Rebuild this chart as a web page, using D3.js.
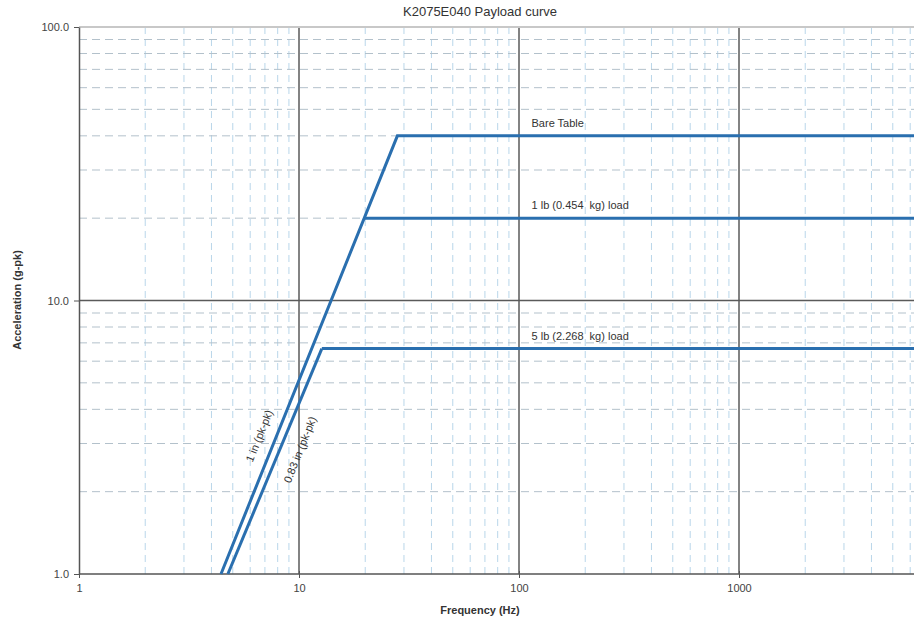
<!DOCTYPE html>
<html>
<head>
<meta charset="utf-8">
<script src="https://cdn.jsdelivr.net/npm/d3@7"></script>
<style>
  body { margin: 0; background: #fff; }
  svg { display: block; font-family: "Liberation Sans", Arial, sans-serif; }
  text { white-space: pre; }
</style>
</head>
<body>
<svg id="chart" width="914" height="628"></svg>
<script>
// Payload curve, log-log

const bareFreq = [4.42, 28, 10000];
const bareAccel = [1, 40, 40];
const oneLbFreq = [19.8, 10000];
const oneLbAccel = [20, 20];
const fiveLbFreq = [12.7, 10000];
const fiveLbAccel = [6.67, 6.67];
const dispFreq = [4.75, 12.7];   // 0.83 in (pk-pk)
const dispAccel = [1, 6.67];

const xTicks = [1, 10, 100, 1000];
const yTicks = [1, 10, 100];

const lineLabels = [
  { text: "Bare Table", f: 114, a: 40 },
  { text: "1 lb (0.454  kg) load", f: 114, a: 20 },
  { text: "5 lb (2.268  kg) load", f: 114, a: 6.67 }
];
const slopeLabels = [
  { text: "1 in (pk-pk)", f: 6.6, a: 3.2 },
  { text: "0.83 in (pk-pk)", f: 10.1, a: 2.85 }
];

const width = 914, height = 628;
const margin = { top: 27, left: 79, bottom: 54 };

const svg = d3.select("#chart");

// x axis runs to 10000, the picture is cut at the right edge
const x = d3.scaleLog().domain([1, 10000]).range([margin.left, margin.left + 4 * 220]);
const y = d3.scaleLog().domain([1, 100]).range([height - margin.bottom, margin.top]);

const lineColor = "#2a6faf";
const plotRight = width;

// minor grid
const minorX = [], minorY = [];
for (let d = 1; d < 10000; d *= 10) {
  for (let m = 2; m <= 9; m++) minorX.push(d * m);
}
for (let d = 1; d < 100; d *= 10) {
  for (let m = 2; m <= 9; m++) minorY.push(d * m);
}

const grid = svg.append("g");

grid.selectAll("line.minx")
  .data(minorX)
  .join("line")
  .attr("x1", d => x(d)).attr("x2", d => x(d))
  .attr("y1", y(100)).attr("y2", y(1))
  .attr("stroke", "#b9d6ea")
  .attr("stroke-width", 1)
  .attr("stroke-dasharray", "7,5");

grid.selectAll("line.miny")
  .data(minorY)
  .join("line")
  .attr("x1", x(1)).attr("x2", plotRight)
  .attr("y1", d => y(d)).attr("y2", d => y(d))
  .attr("stroke", "#b3c1cb")
  .attr("stroke-width", 1)
  .attr("stroke-dasharray", "8,5");

// major grid
grid.selectAll("line.majx")
  .data([10, 100, 1000])
  .join("line")
  .attr("x1", d => x(d)).attr("x2", d => x(d))
  .attr("y1", y(100)).attr("y2", y(1))
  .attr("stroke", "#5a5a5a")
  .attr("stroke-width", 1.5);

grid.selectAll("line.majy")
  .data([10])
  .join("line")
  .attr("x1", x(1)).attr("x2", plotRight)
  .attr("y1", d => y(d)).attr("y2", d => y(d))
  .attr("stroke", "#5a5a5a")
  .attr("stroke-width", 1.5);

// top frame
svg.append("line")
  .attr("x1", x(1)).attr("x2", plotRight)
  .attr("y1", y(100)).attr("y2", y(100))
  .attr("stroke", "#c8c8c8")
  .attr("stroke-width", 2);

// X axis
const xAxis = svg.append("g")
  .attr("transform", `translate(0,${y(1)})`)
  .call(d3.axisBottom(x).tickValues(xTicks).tickFormat(d3.format("d")).tickSize(4).tickSizeOuter(0));
xAxis.select(".domain").attr("stroke", "#555").attr("stroke-width", 1.5)
  .attr("d", `M${x(1)},0H${plotRight}`);
xAxis.selectAll(".tick line").attr("stroke", "#555").attr("y1", -3);
xAxis.selectAll(".tick text")
  .attr("fill", "#444")
  .attr("dy", "1em")
  .style("font-size", "11px");

// Y axis
const yAxis = svg.append("g")
  .attr("transform", `translate(${x(1)},0)`)
  .call(d3.axisLeft(y).tickValues(yTicks).tickFormat(d3.format(".1f")).tickSize(5).tickSizeOuter(0));
yAxis.select(".domain").attr("stroke", "#555").attr("stroke-width", 1.5);
yAxis.selectAll(".tick line").attr("stroke", "#555");
yAxis.selectAll(".tick text")
  .attr("fill", "#444")
  .attr("x", -10)
  .style("font-size", "11px");

// curves
const line = d3.line().x(d => x(d[0])).y(d => y(d[1]));
const series = [
  [bareFreq, bareAccel],
  [oneLbFreq, oneLbAccel],
  [fiveLbFreq, fiveLbAccel],
  [dispFreq, dispAccel]
];

svg.append("g")
  .selectAll("path")
  .data(series)
  .join("path")
  .attr("fill", "none")
  .attr("stroke", lineColor)
  .attr("stroke-width", 3)
  .attr("stroke-linejoin", "miter")
  .attr("d", s => line(d3.zip(s[0], s[1])));

// labels on the flat lines
svg.append("g")
  .selectAll("text")
  .data(lineLabels)
  .join("text")
  .attr("x", d => x(d.f))
  .attr("y", d => y(d.a) - 9)
  .attr("fill", "#333")
  .style("font-size", "11px")
  .text(d => d.text);

// labels along the displacement lines
const angle = Math.atan2(y(bareAccel[1]) - y(bareAccel[0]), x(bareFreq[1]) - x(bareFreq[0])) * 180 / Math.PI;
svg.append("g")
  .selectAll("text")
  .data(slopeLabels)
  .join("text")
  .attr("transform", d => `translate(${x(d.f)},${y(d.a)}) rotate(${angle})`)
  .attr("text-anchor", "middle")
  .attr("dy", "0.35em")
  .attr("fill", "#333")
  .style("font-size", "11px")
  .text(d => d.text);

// title
svg.append("text")
  .attr("x", 480)
  .attr("y", 16)
  .attr("text-anchor", "middle")
  .attr("fill", "#333")
  .style("font-size", "13px")
  .text("K2075E040 Payload curve");

// axis titles
svg.append("text")
  .attr("x", 480)
  .attr("y", 614)
  .attr("text-anchor", "middle")
  .attr("fill", "#333")
  .style("font-size", "11px")
  .style("font-weight", "bold")
  .text("Frequency (Hz)");

svg.append("text")
  .attr("transform", "rotate(-90)")
  .attr("x", -300)
  .attr("y", 21)
  .attr("text-anchor", "middle")
  .attr("fill", "#333")
  .style("font-size", "11px")
  .style("font-weight", "bold")
  .text("Acceleration (g-pk)");
</script>
</body>
</html>
